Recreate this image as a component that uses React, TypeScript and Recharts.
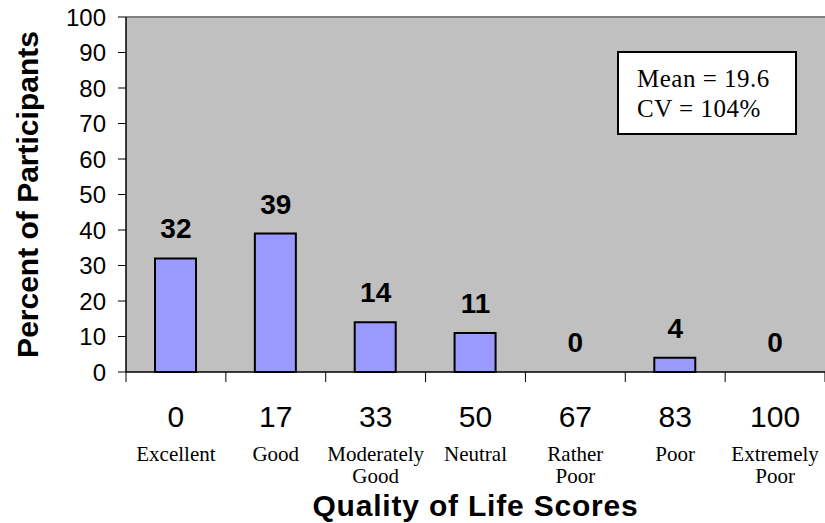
import React from 'react';
import { ComposedChart, Bar, Line, XAxis, YAxis, CartesianGrid, LabelList, ReferenceLine } from 'recharts';

const scores = ['0', '17', '33', '50', '67', '83', '100'];
const descriptors = [['Excellent'], ['Good'], ['Moderately', 'Good'], ['Neutral'], ['Rather', 'Poor'], ['Poor'], ['Extremely', 'Poor']];
const percents = [32, 39, 14, 11, 0, 4, 0];
const yTicks = [0, 10, 20, 30, 40, 50, 60, 70, 80, 90, 100];
const statLines = ['Mean = 19.6', 'CV = 104%'];

const data = scores.map((s, i) => ({ score: s, pct: percents[i], desc: descriptors[i] }));

const SANS = '"Liberation Sans", Arial, sans-serif';
const SERIF = '"Liberation Serif", "Times New Roman", serif';

const CHART_W = 825;
const Y_AXIS_W = 126;
const HALF_BAND = (CHART_W - Y_AXIS_W) / scores.length / 2;

const CatTick = (props: any) => {
  const { x, y, payload, index } = props;
  const desc = descriptors[index] || [];
  const isLast = index === scores.length - 1;
  return (
    <g>
      <line x1={x - HALF_BAND} x2={x - HALF_BAND} y1={y} y2={y + 10} stroke="#000" strokeWidth={1} />
      {isLast && <line x1={x + HALF_BAND} x2={x + HALF_BAND} y1={y} y2={y + 10} stroke="#000" strokeWidth={1} />}
      <text x={x} y={y + 55} textAnchor="middle" fontFamily={SANS} fontSize={30} fill="#000">
        {payload.value}
      </text>
      {desc.map((d: string, k: number) => (
        <text key={k} x={x} y={y + 89 + k * 22} textAnchor="middle" fontFamily={SERIF} fontSize={21} fill="#000">
          {d}
        </text>
      ))}
    </g>
  );
};

export default function App() {
  return (
    <div style={{ position: 'absolute', left: 0, top: 0, width: 825, height: 523, background: '#fff' }}>
      <ComposedChart width={CHART_W} height={523} data={data} margin={{ top: 17, right: 0, bottom: 0, left: 0 }} barSize={41}>
        <CartesianGrid horizontal={false} vertical={false} fill="#C0C0C0" />
        <XAxis
          xAxisId="cat"
          dataKey="score"
          axisLine={{ stroke: '#000', strokeWidth: 1.5 }}
          tickLine={false}
          tickSize={0}
          tickMargin={0}
          height={151}
          interval={0}
          tick={<CatTick />}
          label={{
            content: (p: any) => {
              const vb = p.viewBox;
              return (
                <text x={vb.x + vb.width / 2} y={516} textAnchor="middle" fontFamily={SANS} fontWeight="bold" fontSize={30} letterSpacing={0.8} fill="#000">
                  Quality of Life Scores
                </text>
              );
            },
          }}
        />
        <YAxis
          width={Y_AXIS_W}
          domain={[0, 100]}
          ticks={yTicks}
          interval={0}
          tickSize={8}
          tickMargin={12}
          axisLine={{ stroke: '#000', strokeWidth: 1.5 }}
          tickLine={{ stroke: '#000', strokeWidth: 1 }}
          tick={{ fontFamily: SANS, fontSize: 24, fill: '#000' }}
          label={{
            content: (p: any) => {
              const vb = p.viewBox;
              const cy = vb.y + vb.height / 2;
              return (
                <text transform={`translate(27,${cy}) rotate(-90)`} textAnchor="middle" dominantBaseline="central" fontFamily={SANS} fontWeight="bold" fontSize={30} fill="#000">
                  Percent of Participants
                </text>
              );
            },
          }}
        />
        <ReferenceLine xAxisId="cat" y={100} stroke="#808080" strokeWidth={2} />
        <Bar xAxisId="cat" dataKey="pct" fill="#9999FF" stroke="#000" strokeWidth={2} isAnimationActive={false} />
        <Line xAxisId="cat" dataKey="pct" stroke="none" dot={false} activeDot={false} isAnimationActive={false}>
          <LabelList dataKey="pct" position="top" offset={20} fontFamily={SANS} fontWeight="bold" fontSize={28} fill="#000" />
        </Line>
      </ComposedChart>
      <div
        style={{
          position: 'absolute',
          left: 617,
          top: 51,
          width: 180,
          height: 84,
          boxSizing: 'border-box',
          border: '2px solid #000',
          background: '#fff',
          fontFamily: SERIF,
          fontSize: 25,
          letterSpacing: 0.5,
          lineHeight: '30px',
          paddingTop: 11,
          paddingLeft: 18,
          color: '#000',
        }}
      >
        {statLines.map((t, i) => (
          <div key={i}>{t}</div>
        ))}
      </div>
    </div>
  );
}
